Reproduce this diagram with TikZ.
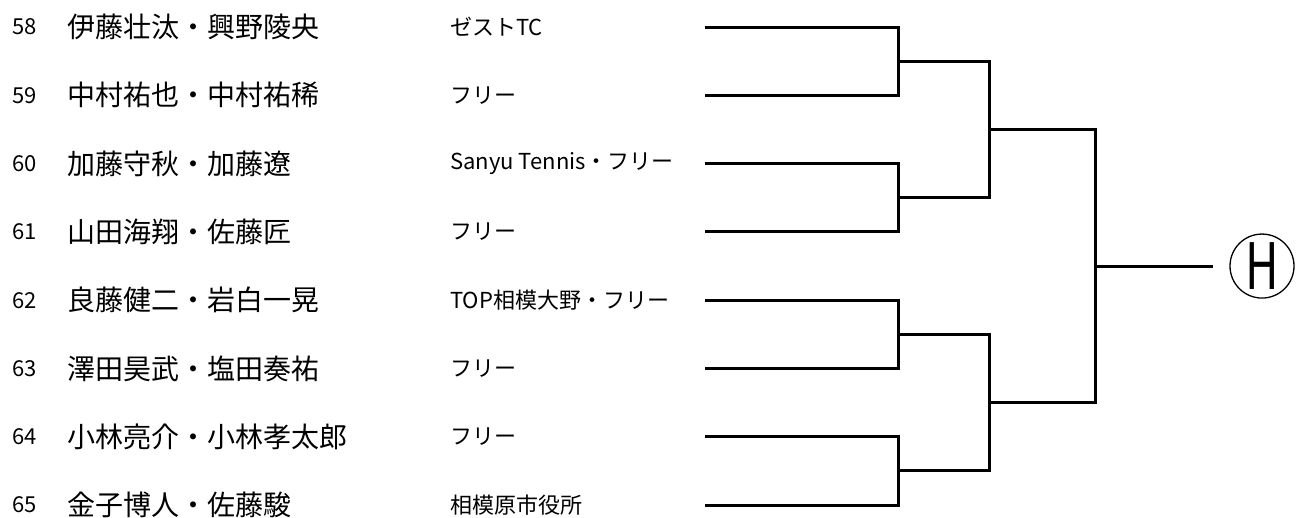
\documentclass[tikz,border=0pt]{standalone}
\usepackage{fontspec}
\setmainfont{Noto Sans CJK JP}
\newcommand{\rowgap}{68.3}
\newcommand{\toprow}{27}

\begin{document}
\begin{tikzpicture}[x=1pt,y=-1pt,
	entry/.style={anchor=west,inner sep=0pt},
	bracket/.style={line width=3pt}]

	\useasboundingbox (0,0) rectangle (1299,517);

	\foreach \k/\n/\p/\c in {1/58/伊藤壮汰・興野陵央/ゼストTC,2/59/中村祐也・中村祐稀/フリー,3/60/加藤守秋・加藤遼/Sanyu Tennis・フリー,4/61/山田海翔・佐藤匠/フリー,5/62/良藤健二・岩白一晃/TOP相模大野・フリー,6/63/澤田昊武・塩田奏祐/フリー,7/64/小林亮介・小林孝太郎/フリー,8/65/金子博人・佐藤駿/相模原市役所}
	{
		\pgfmathsetmacro{\y}{\toprow+(\k-1)*\rowgap}
		\node[entry,font=\fontsize{22}{26}\selectfont] (num\k) at (12,\y) {\n};
		\node[entry,font=\fontsize{28}{32}\selectfont] (name\k) at (67,\y) {\p};
		\node[entry,font=\fontsize{22}{26}\selectfont] (club\k) at (450,\y) {\c};
		\coordinate (a\k) at (705,\y);
	}

	\foreach \j in {1,...,4}
	{
		\pgfmathsetmacro{\y}{\toprow+(2*\j-1.5)*\rowgap}
		\coordinate (q\j) at (898,\y);
	}
	\foreach \j in {1,2}
	{
		\pgfmathsetmacro{\y}{\toprow+(4*\j-2.5)*\rowgap}
		\coordinate (s\j) at (989,\y);
	}
	\coordinate (t) at (1095,\toprow+3.5*\rowgap);

	\node[draw,circle,line width=1.3pt,minimum size=64pt,inner sep=0pt,font=\fontsize{64}{68}\selectfont] (champ) at (1262,\toprow+3.5*\rowgap) {\scalebox{0.72}[1]{H}};

	\foreach \j/\u/\v in {1/1/2,2/3/4,3/5/6,4/7/8}
		\draw[bracket] (a\u) -| (q\j) |- (a\v);
	\foreach \j/\u/\v in {1/1/2,2/3/4}
		\draw[bracket] (q\u) -| (s\j) |- (q\v);
	\draw[bracket] (s1) -| (t) |- (s2);
	\draw[bracket,shorten >=16pt] (t) -- (champ);

\end{tikzpicture}
\end{document}
